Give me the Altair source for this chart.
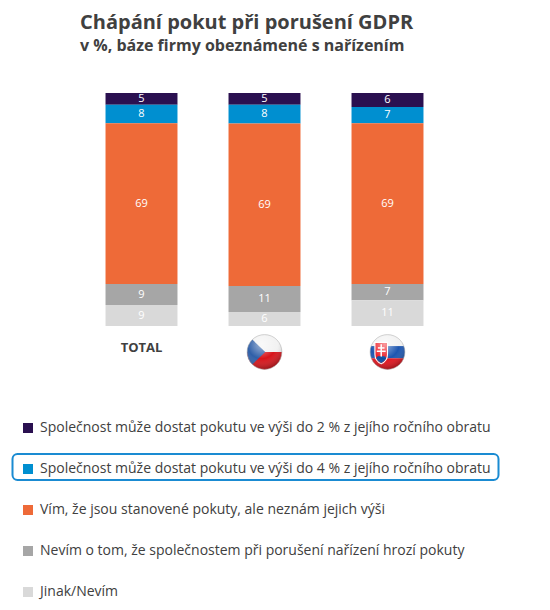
import base64
import altair as alt
import pandas as pd

# ---------------- data ----------------
categories = ["TOTAL", "CZ", "SK"]
series = [
    "Společnost může dostat pokutu ve výši do 2 % z jejího ročního obratu",
    "Společnost může dostat pokutu ve výši do 4 % z jejího ročního obratu",
    "Vím, že jsou stanovené pokuty, ale neznám jejich výši",
    "Nevím o tom, že společnostem při porušení nařízení hrozí pokuty",
    "Jinak/Nevím",
]
colors = ["#2a1050", "#008fd0", "#ee6a38", "#a6a6a6", "#d9d9d9"]

v_2pct = [5, 5, 6]
v_4pct = [8, 8, 7]
v_vim = [69, 69, 69]
v_nevim = [9, 11, 7]
v_jinak = [9, 6, 11]
values = [v_2pct, v_4pct, v_vim, v_nevim, v_jinak]

rows = []
for i, c in enumerate(categories):
    for j, s in enumerate(series):
        rows.append({"cat": c, "series": s, "value": values[j][i], "rank": len(series) - 1 - j})
df = pd.DataFrame(rows)

# ---------------- flags (decorative images) ----------------
gloss = (
    '<radialGradient id="g" cx="42%" cy="28%" r="75%">'
    '<stop offset="0" stop-color="#fff" stop-opacity="0.55"/>'
    '<stop offset="0.55" stop-color="#fff" stop-opacity="0"/>'
    '<stop offset="1" stop-color="#000" stop-opacity="0.35"/></radialGradient>'
)
cz_svg = (
    '<svg xmlns="http://www.w3.org/2000/svg" width="100" height="100" viewBox="0 0 100 100">'
    '<defs><clipPath id="c"><circle cx="50" cy="50" r="47"/></clipPath>' + gloss + '</defs>'
    '<g clip-path="url(#c)"><rect width="100" height="50" fill="#f2f2f2"/>'
    '<rect y="50" width="100" height="50" fill="#d7141a"/>'
    '<polygon points="0,0 52,50 0,100" fill="#2f5fa8"/></g>'
    '<circle cx="50" cy="50" r="47" fill="url(#g)" stroke="#b0b0b0" stroke-width="1.5"/></svg>'
)
sk_svg = (
    '<svg xmlns="http://www.w3.org/2000/svg" width="100" height="100" viewBox="0 0 100 100">'
    '<defs><clipPath id="c"><circle cx="50" cy="50" r="47"/></clipPath>' + gloss + '</defs>'
    '<g clip-path="url(#c)"><rect width="100" height="34" fill="#f2f2f2"/>'
    '<rect y="34" width="100" height="33" fill="#1d56b0"/>'
    '<rect y="67" width="100" height="33" fill="#e3111b"/>'
    '<path d="M16,24 H50 V56 Q50,74 33,82 Q16,74 16,56 Z" fill="#ee1c25" stroke="#fff" stroke-width="3"/>'
    '<rect x="31" y="29" width="4" height="38" fill="#fff"/>'
    '<rect x="24" y="37" width="18" height="4" fill="#fff"/>'
    '<rect x="21" y="46" width="24" height="4" fill="#fff"/>'
    '<path d="M19,66 Q25,58 33,63 Q41,58 47,66 Q42,76 33,80 Q24,76 19,66 Z" fill="#0b4ea2"/></g>'
    '<circle cx="50" cy="50" r="47" fill="url(#g)" stroke="#b0b0b0" stroke-width="1.5"/></svg>'
)


def uri(svg):
    return "data:image/svg+xml;base64," + base64.b64encode(svg.encode("utf-8")).decode("ascii")


flag_cats = ["CZ", "SK"]
flag_df = pd.DataFrame({"cat": flag_cats, "url": [uri(cz_svg), uri(sk_svg)]})
total_df = pd.DataFrame({"cat": ["TOTAL"]})

FONT = "Open Sans"
TXT = "#404040"

xenc = alt.X("cat:N", sort=categories,
             scale=alt.Scale(domain=categories, paddingInner=0.415, paddingOuter=0.2075),
             axis=None)

base = alt.Chart(df).transform_stack(
    stack="value", groupby=["cat"], as_=["y0", "y1"], offset="normalize",
    sort=[alt.SortField("rank", order="ascending")],
).transform_calculate(mid="(datum.y0 + datum.y1) / 2")

bars = base.mark_bar().encode(
    x=xenc,
    y=alt.Y("y0:Q", scale=alt.Scale(domain=[0, 1]), axis=None),
    y2="y1:Q",
    color=alt.Color(
        "series:N", sort=series,
        scale=alt.Scale(domain=series, range=colors),
        legend=alt.Legend(
            orient="none", legendX=-59, legendY=328, direction="vertical", title=None,
            symbolType="square", symbolSize=100, symbolStrokeWidth=0,
            labelFont=FONT, labelFontSize=14, labelColor=TXT, labelLimit=700,
            rowPadding=27, labelOffset=5,
        ),
    ),
)

labels = base.mark_text(color="white", fontSize=11, font=FONT).encode(
    x=xenc, y=alt.Y("mid:Q"), text="value:Q"
)

flags = alt.Chart(flag_df).mark_image(width=37, height=37).encode(
    x=xenc, y=alt.value(259), url="url:N"
)

total_lbl = alt.Chart(total_df).mark_text(
    fontWeight="bold", fontSize=13, font=FONT, color=TXT
).encode(x=xenc, y=alt.value(255), text="cat:N")

highlight = alt.Chart(pd.DataFrame({"k": [0]})).mark_rect(
    fill="transparent", stroke="#1a8bd2", strokeWidth=2, cornerRadius=5
).encode(x=alt.value(-67.5), x2=alt.value(418.5), y=alt.value(361), y2=alt.value(387))

chart = alt.layer(bars, labels, flags, total_lbl, highlight).properties(
    width=369,
    height=233,
    padding={"left": 72, "top": 85, "right": 90, "bottom": 276},
    autosize=alt.AutoSizeParams(type="none"),
    background="white",
    title=alt.TitleParams(
        text="Chápání pokut při porušení GDPR",
        subtitle="v %, báze firmy obeznámené s nařízením",
        anchor="start", frame="group", font=FONT, fontSize=20, fontWeight="bold", color=TXT,
        subtitleFont=FONT, subtitleFontSize=16, subtitleFontWeight="bold",
        subtitleColor=TXT, subtitlePadding=5, offset=39,
    ),
).configure_view(stroke=None)

chart.save("out.html", embed_options={"renderer": "svg", "actions": False})
